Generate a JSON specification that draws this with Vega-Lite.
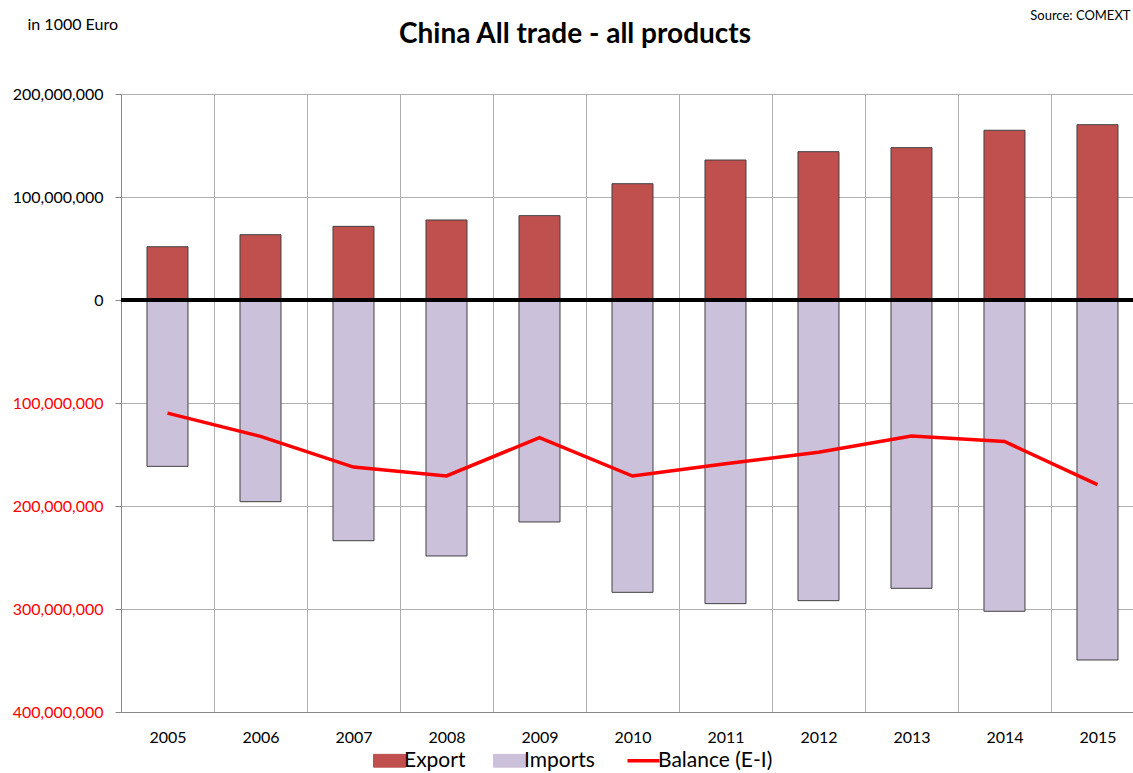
{
  "$schema": "https://vega.github.io/schema/vega-lite/v6.json",
  "width": 1012,
  "height": 618,
  "autosize": "none",
  "padding": {"left": 121, "top": 94, "right": 0, "bottom": 61},
  "background": "white",
  "config": {"font": "Lato", "view": {"stroke": null}},
  "title": {"text": "China All trade - all products", "fontSize": 28, "fontWeight": "bold", "font": "Lato", "color": "#000000", "anchor": "middle", "frame": "group", "dx": -52, "offset": -68, "baseline": "bottom"},
  "data": {"values": [
    {"year": 2005, "series": "Export", "value": 51700000},
    {"year": 2005, "series": "Imports", "value": -161500000},
    {"year": 2005, "series": "Balance (E-I)", "value": -109800000},
    {"year": 2006, "series": "Export", "value": 63400000},
    {"year": 2006, "series": "Imports", "value": -195800000},
    {"year": 2006, "series": "Balance (E-I)", "value": -132400000},
    {"year": 2007, "series": "Export", "value": 71500000},
    {"year": 2007, "series": "Imports", "value": -233700000},
    {"year": 2007, "series": "Balance (E-I)", "value": -162200000},
    {"year": 2008, "series": "Export", "value": 77700000},
    {"year": 2008, "series": "Imports", "value": -248500000},
    {"year": 2008, "series": "Balance (E-I)", "value": -170800000},
    {"year": 2009, "series": "Export", "value": 81900000},
    {"year": 2009, "series": "Imports", "value": -215500000},
    {"year": 2009, "series": "Balance (E-I)", "value": -133600000},
    {"year": 2010, "series": "Export", "value": 112900000},
    {"year": 2010, "series": "Imports", "value": -283800000},
    {"year": 2010, "series": "Balance (E-I)", "value": -170900000},
    {"year": 2011, "series": "Export", "value": 135900000},
    {"year": 2011, "series": "Imports", "value": -294800000},
    {"year": 2011, "series": "Balance (E-I)", "value": -158900000},
    {"year": 2012, "series": "Export", "value": 144000000},
    {"year": 2012, "series": "Imports", "value": -291900000},
    {"year": 2012, "series": "Balance (E-I)", "value": -147900000},
    {"year": 2013, "series": "Export", "value": 147900000},
    {"year": 2013, "series": "Imports", "value": -279900000},
    {"year": 2013, "series": "Balance (E-I)", "value": -132000000},
    {"year": 2014, "series": "Export", "value": 164800000},
    {"year": 2014, "series": "Imports", "value": -302200000},
    {"year": 2014, "series": "Balance (E-I)", "value": -137400000},
    {"year": 2015, "series": "Export", "value": 170200000},
    {"year": 2015, "series": "Imports", "value": -349500000},
    {"year": 2015, "series": "Balance (E-I)", "value": -179300000}
  ]},
  "layer": [
    {
      "transform": [{"filter": "datum.series !== 'Balance (E-I)'"}],
      "mark": {"type": "bar", "width": 41, "stroke": "#404040", "strokeWidth": 1},
      "encoding": {
        "x": {
          "field": "year", "type": "quantitative",
          "scale": {"domain": [2004.5, 2015.382], "nice": false, "zero": false, "padding": 0},
          "axis": {
            "values": [2004.5, 2005.5, 2006.5, 2007.5, 2008.5, 2009.5, 2010.5, 2011.5, 2012.5, 2013.5, 2014.5],
            "labelExpr": "format(datum.value + 0.5, 'd')",
            "labelOffset": 46.5, "labelFlush": false, "labelOverlap": false,
            "ticks": false, "tickSize": 0, "labelPadding": 17,
            "labelFontSize": 16, "labelColor": "#000000",
            "domainColor": "#888888", "grid": true, "gridColor": "#b0b0b0",
            "title": "Source: COMEXT", "titleX": 1009, "titleY": -697,
            "titleAlign": "right", "titleBaseline": "middle",
            "titleFontSize": 13, "titleFontWeight": "normal", "titleColor": "#000000"
          }
        },
        "y": {
          "field": "value", "type": "quantitative", "stack": null,
          "scale": {"domain": [-400000000, 200000000], "nice": false},
          "axis": {
            "values": [-400000000, -300000000, -200000000, -100000000, 0, 100000000, 200000000],
            "labelExpr": "format(abs(datum.value), ',')",
            "labelColor": {"condition": {"test": "datum.value < 0", "value": "#FF0000"}, "value": "#000000"},
            "labelFontSize": 16, "tickSize": 6, "tickColor": "#888888",
            "domainColor": "#888888", "grid": true, "gridColor": "#b0b0b0", "labelPadding": 12,
            "title": "in 1000 Euro", "titleAngle": 0, "titleX": -94, "titleY": -70,
            "titleAlign": "left", "titleBaseline": "middle",
            "titleFontSize": 16, "titleFontWeight": "normal", "titleColor": "#000000"
          }
        },
        "color": {
          "field": "series", "type": "nominal",
          "scale": {"domain": ["Export", "Imports", "Balance (E-I)"], "range": ["#C0504D", "#CCC1DA", "#FF0000"]},
          "legend": {
            "orient": "none", "legendX": 258, "legendY": 656, "direction": "horizontal",
            "title": null, "padding": 0, "symbolSize": 1024, "labelFontSize": 21,
            "symbolType": "M-1,-0.4H1V0.4H-1Z",
            "symbolStrokeColor": "#404040", "symbolStrokeWidth": 1,
            "labelColor": "#000000", "columnPadding": 25, "labelOffset": 4,
            "encode": {"symbols": {"update": {
              "shape": {"signal": "datum.index === 2 ? 'stroke' : 'M-1,-0.4H1V0.4H-1Z'"},
              "fill": {"signal": "datum.index === 2 ? 'transparent' : scale('color', datum.value)"},
              "stroke": {"signal": "datum.index === 2 ? '#FF0000' : '#404040'"},
              "strokeWidth": {"signal": "datum.index === 2 ? 3.5 : 1"},
              "opacity": {"value": 1}
            }}}
          }
        }
      }
    },
    {
      "mark": {"type": "rule", "color": "#000000", "strokeWidth": 3},
      "encoding": {"y": {"datum": 0, "type": "quantitative"}}
    },
    {
      "transform": [{"filter": "datum.series === 'Balance (E-I)'"}],
      "mark": {"type": "line", "strokeWidth": 3.5},
      "encoding": {
        "x": {"field": "year", "type": "quantitative"},
        "y": {"field": "value", "type": "quantitative"},
        "color": {"field": "series", "type": "nominal", "legend": null}
      }
    }
  ]
}
